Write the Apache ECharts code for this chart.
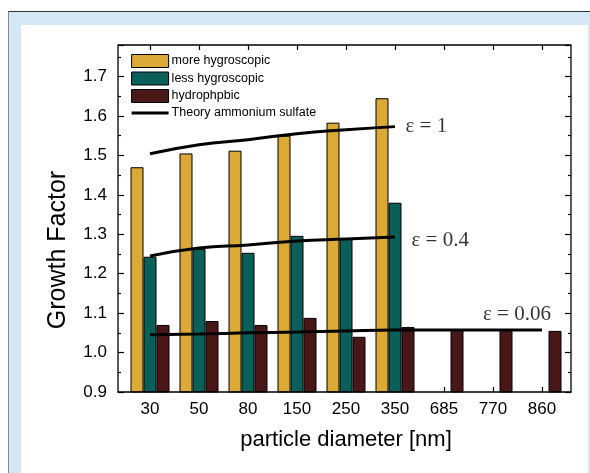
<!DOCTYPE html>
<html>
<head>
<meta charset="utf-8">
<script src="https://cdn.jsdelivr.net/npm/echarts@6/dist/echarts.min.js"></script>
<style>
  html, body { margin: 0; padding: 0; background: #ffffff; }
  #backdrop {
    position: absolute; left: 8px; top: 11px; right: 0; bottom: 0;
    background: #d5e6f5; border-left: 1px solid #8a8a8a; border-top: 1px solid #333333;
  }
  #panel { position: absolute; left: 21px; top: 25px; width: 567px; bottom: 0; background: #ffffff; }
  #chart { position: absolute; left: 0; top: 0; width: 590px; height: 473px; }
</style>
</head>
<body>
<div id="backdrop"></div>
<div id="panel"></div>
<div id="chart"></div>
<script>
// particle diameters [nm]
const categories = ['30', '50', '80', '150', '250', '350', '685', '770', '860'];

// measured growth factors per hygroscopicity mode
const moreHygroscopic = [1.47, 1.505, 1.512, 1.55, 1.583, 1.645];
const lessHygroscopic = [1.243, 1.263, 1.253, 1.296, 1.288, 1.38];
const hydrophobic = [1.07, 1.08, 1.07, 1.088, 1.04, 1.065, 1.057, 1.057, 1.055];

// theoretical curves for ammonium sulfate fractions
const theoryEps1 = [1.504, 1.527, 1.54, 1.555, 1.565, 1.573];
const theoryEps04 = [1.245, 1.265, 1.273, 1.283, 1.288, 1.293];
const theoryEps006 = [1.045, 1.047, 1.05, 1.052, 1.055, 1.057, 1.057, 1.057, 1.057];

// curve annotations
const epsLabels = ['ε = 1', 'ε = 0.4', 'ε = 0.06'];

// value axis range
const yMin = 0.9, yMax = 1.78, yStep = 0.1;

// layout
const GRID = { left: 125.5, right: 23.5, top: 45, bottom: 81 };
const OFFSET_L = 7.5, OFFSET_R = 4.5;
const W = 590, H = 473;

const COLORS = { more: '#dba935', less: '#0b5f59', hydro: '#4a1718' };
const SANS = 'Liberation Sans, Arial, Helvetica, sans-serif';
const SERIF = 'Liberation Serif, Times New Roman, serif';

const chart = echarts.init(document.getElementById('chart'), null, { renderer: 'canvas' });

function yAxisDef(pos, offset, showLabel) {
  return {
    type: 'value', position: pos, offset: offset,
    min: yMin, max: yMax, interval: yStep,
    axisLine: { show: false },
    splitLine: { show: false },
    axisTick: { show: true, inside: true, length: 6, lineStyle: { color: '#000', width: 1.2 } },
    minorTick: { show: true, splitNumber: 2, length: 3, lineStyle: { color: '#000', width: 1.2 } },
    axisLabel: {
      show: showLabel, showMaxLabel: false, margin: 11,
      color: '#000', fontSize: 17, fontFamily: SANS,
      formatter: v => v.toFixed(1)
    },
    name: showLabel ? 'Growth Factor' : '',
    nameLocation: 'middle', nameGap: 47,
    // right padding moves the rotated title down along the axis
    nameTextStyle: { color: '#000', fontSize: 25, fontFamily: SANS, padding: [0, 63, 0, 0] }
  };
}

function xAxisDef(pos, showLabel) {
  return {
    type: 'category', position: pos, data: categories,
    boundaryGap: true,
    axisLine: { show: false },
    axisTick: { show: true, inside: true, alignWithLabel: true, length: 5, lineStyle: { color: '#000', width: 1.2 } },
    axisLabel: { show: showLabel, margin: 9, color: '#000', fontSize: 17, fontFamily: SANS },
    splitLine: { show: false },
    name: showLabel ? 'particle diameter [nm]' : '',
    nameLocation: 'middle', nameGap: 37,
    nameTextStyle: { color: '#000', fontSize: 22, fontFamily: SANS }
  };
}

const barCommon = {
  type: 'bar', xAxisIndex: 0, yAxisIndex: 0,
  barWidth: 13, barGap: '0%',
  itemStyle: { borderColor: '#000', borderWidth: 1 },
  emphasis: { disabled: true }
};

const lineCommon = {
  type: 'line', name: 'Theory ammonium sulfate',
  xAxisIndex: 0, yAxisIndex: 0,
  smooth: true, symbol: 'none', showSymbol: false,
  lineStyle: { color: '#000', width: 3 },
  itemStyle: { color: '#000' },
  z: 5, emphasis: { disabled: true }
};

// each annotation anchors to the end point of its curve
const annotationData = [
  { value: [theoryEps1.length - 1, theoryEps1[theoryEps1.length - 1]],
    label: { formatter: epsLabels[0], position: 'right', distance: 10 } },
  { value: [theoryEps04.length - 1, theoryEps04[theoryEps04.length - 1]],
    label: { formatter: epsLabels[1], position: 'right', distance: 16, offset: [0, 3] } },
  { value: [theoryEps006.length - 1, theoryEps006[theoryEps006.length - 1]],
    label: { formatter: epsLabels[2], position: 'top', distance: 5, offset: [-25, 0] } }
];

const swatch = { borderColor: '#000', borderWidth: 1 };

chart.setOption({
  animation: false,
  grid: { left: GRID.left, right: GRID.right, top: GRID.top, bottom: GRID.bottom, containLabel: false },
  xAxis: [xAxisDef('bottom', true), xAxisDef('top', false)],
  yAxis: [yAxisDef('left', OFFSET_L, true), yAxisDef('right', OFFSET_R, false)],
  legend: {
    orient: 'vertical', left: 130, top: 54, padding: 0,
    itemWidth: 37, itemHeight: 13, itemGap: 3.5,
    textStyle: { color: '#000', fontSize: 12.5, lineHeight: 13, fontFamily: SANS, padding: [0, 0, 0, -2] },
    data: [
      { name: 'more hygroscopic', icon: 'rect', itemStyle: swatch },
      { name: 'less hygroscopic', icon: 'rect', itemStyle: swatch },
      { name: 'hydrophpbic', icon: 'rect', itemStyle: swatch },
      { name: 'Theory ammonium sulfate', itemStyle: { opacity: 0 }, lineStyle: { width: 3.2, color: '#000' } }
    ],
    selectedMode: false
  },
  series: [
    Object.assign({}, barCommon, { name: 'more hygroscopic', data: moreHygroscopic, itemStyle: Object.assign({}, barCommon.itemStyle, { color: COLORS.more }) }),
    Object.assign({}, barCommon, { name: 'less hygroscopic', data: lessHygroscopic, itemStyle: Object.assign({}, barCommon.itemStyle, { color: COLORS.less }) }),
    Object.assign({}, barCommon, { name: 'hydrophpbic', data: hydrophobic, itemStyle: Object.assign({}, barCommon.itemStyle, { color: COLORS.hydro }) }),
    Object.assign({}, lineCommon, { data: theoryEps1 }),
    Object.assign({}, lineCommon, { data: theoryEps04 }),
    Object.assign({}, lineCommon, { data: theoryEps006 }),
    {
      type: 'scatter', name: 'annotations', xAxisIndex: 0, yAxisIndex: 0,
      symbolSize: 1, itemStyle: { color: 'rgba(0,0,0,0)' }, silent: true, z: 6,
      label: { show: true, color: '#000', fontSize: 21, fontFamily: SERIF },
      emphasis: { disabled: true },
      data: annotationData
    }
  ],
  graphic: [{
    // plot frame spanning both offset value axes
    type: 'rect', silent: true, z: 100,
    shape: {
      x: GRID.left - OFFSET_L, y: GRID.top,
      width: (W - GRID.right + OFFSET_R) - (GRID.left - OFFSET_L),
      height: H - GRID.bottom - GRID.top
    },
    style: { fill: 'none', stroke: '#000', lineWidth: 1.3 }
  }]
});
</script>
</body>
</html>
